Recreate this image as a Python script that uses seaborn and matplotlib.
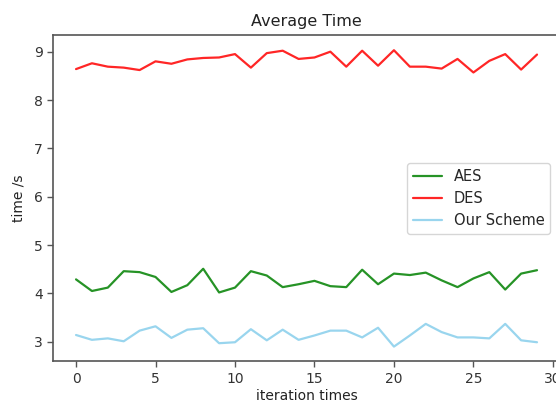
import matplotlib
matplotlib.use("Agg")
import matplotlib.pyplot as plt
import seaborn as sns
import pandas as pd

iterations = list(range(30))
aes = [4.29, 4.05, 4.12, 4.46, 4.44, 4.34, 4.03, 4.17, 4.51, 4.02,
       4.12, 4.46, 4.37, 4.13, 4.19, 4.26, 4.15, 4.13, 4.49, 4.19,
       4.41, 4.38, 4.43, 4.27, 4.13, 4.31, 4.44, 4.08, 4.41, 4.48]
des = [8.64, 8.76, 8.69, 8.67, 8.62, 8.80, 8.75, 8.84, 8.87, 8.88,
       8.95, 8.67, 8.97, 9.02, 8.85, 8.88, 9.00, 8.69, 9.02, 8.71,
       9.03, 8.69, 8.69, 8.65, 8.85, 8.57, 8.81, 8.95, 8.63, 8.94]
ours = [3.14, 3.04, 3.07, 3.01, 3.23, 3.32, 3.08, 3.25, 3.28, 2.97,
        2.99, 3.26, 3.03, 3.25, 3.04, 3.13, 3.23, 3.23, 3.09, 3.29,
        2.90, 3.13, 3.37, 3.20, 3.09, 3.09, 3.07, 3.37, 3.03, 2.99]
series_names = ["AES", "DES", "Our Scheme"]
colors = ["green", "red", "skyblue"]

df = pd.DataFrame({
    "x": iterations * 3,
    "y": aes + des + ours,
    "series": [series_names[0]] * 30 + [series_names[1]] * 30 + [series_names[2]] * 30,
})

sns.set_style("ticks")
plt.rcParams["font.family"] = ["DejaVu Sans"]
plt.rcParams["axes.edgecolor"] = "#555555"
plt.rcParams["xtick.color"] = "#555555"
plt.rcParams["ytick.color"] = "#555555"
plt.rcParams["xtick.labelcolor"] = "#333333"
plt.rcParams["ytick.labelcolor"] = "#333333"

fig = plt.figure(figsize=(5.56, 4.07), dpi=100)
ax = fig.add_axes([0.0953, 0.112, 0.912, 0.801])
sns.lineplot(data=df, x="x", y="y", hue="series", palette=dict(zip(series_names, colors)),
             ax=ax, linewidth=1.6, alpha=0.85)
ax.set_title("Average Time", fontsize=11.5, color="#222222", pad=7)
ax.set_xlabel("iteration times", fontsize=10, color="#222222", labelpad=2)
ax.set_ylabel("time /s", fontsize=10, color="#222222", labelpad=6)
ax.tick_params(labelsize=10, width=1, length=4)
ax.set_xticks([0, 5, 10, 15, 20, 25, 30])
ax.set_yticks([3, 4, 5, 6, 7, 8, 9])
ax.margins(x=0.05, y=0.05)
leg = ax.legend(loc="center right", fontsize=10.5, title=None, frameon=True,
                bbox_to_anchor=(0.995, 0.5))
for s in ax.spines.values():
    s.set_linewidth(1.2)
fig.savefig("out.png", dpi=100)
